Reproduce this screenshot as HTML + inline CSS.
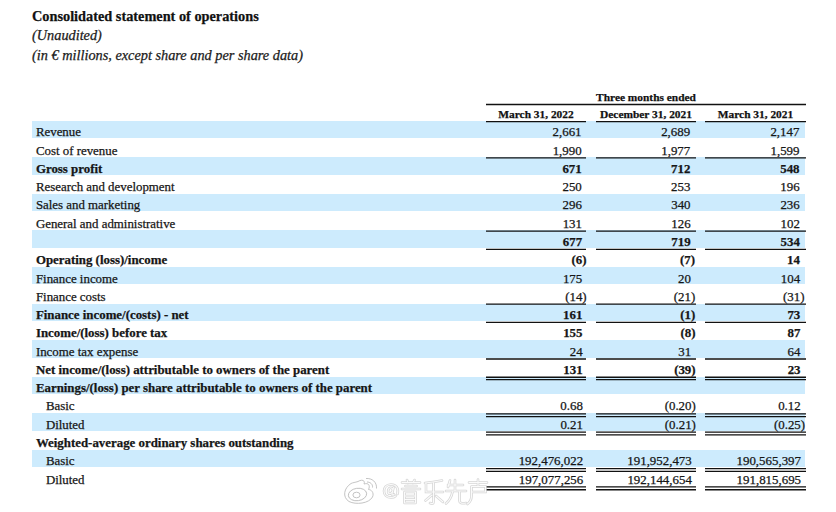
<!DOCTYPE html>
<html><head><meta charset="utf-8">
<style>
html,body{margin:0;padding:0;background:#fff;}
body{width:836px;height:512px;position:relative;overflow:hidden;font-family:"Liberation Serif",serif;color:#161616;-webkit-text-stroke:0.25px #161616;}
.a{position:absolute;white-space:nowrap;}
.band{position:absolute;background:#cdebfd;}
.rule{position:absolute;background:#141414;height:1px;z-index:2;}
.lab{position:absolute;white-space:nowrap;font-size:12.88px;line-height:1;}
.num{position:absolute;white-space:nowrap;font-size:12.9px;line-height:1;text-align:right;}
.b{font-weight:bold;}
.p{position:absolute;left:100%;top:0;}
</style></head><body>

<div class="a b" style="left:32px;top:8.62px;font-size:14.3px;line-height:1;color:#111;">Consolidated statement of operations</div>
<div class="a" style="left:32px;top:28.02px;font-size:14.3px;line-height:1;font-style:italic;color:#222;">(Unaudited)</div>
<div class="a" style="left:32px;top:47.92px;font-size:14.3px;line-height:1;font-style:italic;color:#222;">(in &#8364; millions, except share and per share data)</div>
<div class="a b" style="left:596px;width:100px;text-align:center;top:91.75px;font-size:11.4px;line-height:1;color:#111;">Three months ended</div>
<div class="a b" style="left:486px;width:100px;text-align:center;top:109.45px;font-size:11.4px;line-height:1;color:#111;">March 31, 2022</div>
<div class="a b" style="left:596px;width:100px;text-align:center;top:109.45px;font-size:11.4px;line-height:1;color:#111;">December 31, 2021</div>
<div class="a b" style="left:705px;width:101px;text-align:center;top:109.45px;font-size:11.4px;line-height:1;color:#111;">March 31, 2021</div>
<div class="band" style="left:32px;width:773px;top:120.50px;height:17.50px;"></div>
<div class="lab" style="left:35.9px;top:125.71px;">Revenue</div>
<div class="num" style="right:254.46px;top:125.70px;">2,661</div>
<div class="num" style="right:145.83px;top:125.70px;">2,689</div>
<div class="num" style="right:36.62px;top:125.70px;">2,147</div>
<div class="lab" style="left:35.9px;top:144.71px;">Cost of revenue</div>
<div class="num" style="right:254.37px;top:144.70px;">1,990</div>
<div class="num" style="right:145.74px;top:144.70px;">1,977</div>
<div class="num" style="right:36.53px;top:144.70px;">1,599</div>
<div class="band" style="left:32px;width:773px;top:157.10px;height:17.50px;"></div>
<div class="lab b" style="left:35.9px;top:162.71px;">Gross profit</div>
<div class="num b" style="right:254.28px;top:162.70px;">671</div>
<div class="num b" style="right:145.65px;top:162.70px;">712</div>
<div class="num b" style="right:36.44px;top:162.70px;">548</div>
<div class="lab" style="left:35.9px;top:180.71px;">Research and development</div>
<div class="num" style="right:254.20px;top:180.70px;">250</div>
<div class="num" style="right:145.57px;top:180.70px;">253</div>
<div class="num" style="right:36.36px;top:180.70px;">196</div>
<div class="band" style="left:32px;width:773px;top:193.70px;height:17.50px;"></div>
<div class="lab" style="left:35.9px;top:198.71px;">Sales and marketing</div>
<div class="num" style="right:254.11px;top:198.70px;">296</div>
<div class="num" style="right:145.48px;top:198.70px;">340</div>
<div class="num" style="right:36.27px;top:198.70px;">236</div>
<div class="lab" style="left:35.9px;top:217.71px;">General and administrative</div>
<div class="num" style="right:254.02px;top:217.70px;">131</div>
<div class="num" style="right:145.39px;top:217.70px;">126</div>
<div class="num" style="right:36.18px;top:217.70px;">102</div>
<div class="band" style="left:32px;width:773px;top:230.30px;height:17.50px;"></div>
<div class="num b" style="right:253.93px;top:235.70px;">677</div>
<div class="num b" style="right:145.30px;top:235.70px;">719</div>
<div class="num b" style="right:36.09px;top:235.70px;">534</div>
<div class="lab b" style="left:35.9px;top:253.71px;">Operating (loss)/income</div>
<div class="num b" style="right:253.84px;top:253.70px;">(6<span class="p">)</span></div>
<div class="num b" style="right:145.21px;top:253.70px;">(7<span class="p">)</span></div>
<div class="num b" style="right:36.00px;top:253.70px;">14</div>
<div class="band" style="left:32px;width:773px;top:266.90px;height:17.50px;"></div>
<div class="lab" style="left:35.9px;top:272.71px;">Finance income</div>
<div class="num" style="right:253.76px;top:272.70px;">175</div>
<div class="num" style="right:145.13px;top:272.70px;">20</div>
<div class="num" style="right:35.92px;top:272.70px;">104</div>
<div class="lab" style="left:35.9px;top:290.71px;">Finance costs</div>
<div class="num" style="right:253.67px;top:290.70px;">(14<span class="p">)</span></div>
<div class="num" style="right:145.04px;top:290.70px;">(21<span class="p">)</span></div>
<div class="num" style="right:35.83px;top:290.70px;">(31<span class="p">)</span></div>
<div class="band" style="left:32px;width:773px;top:303.50px;height:17.50px;"></div>
<div class="lab b" style="left:35.9px;top:308.71px;">Finance income/(costs) - net</div>
<div class="num b" style="right:253.58px;top:308.70px;">161</div>
<div class="num b" style="right:144.95px;top:308.70px;">(1<span class="p">)</span></div>
<div class="num b" style="right:35.74px;top:308.70px;">73</div>
<div class="lab b" style="left:35.9px;top:326.71px;">Income/(loss) before tax</div>
<div class="num b" style="right:253.49px;top:326.70px;">155</div>
<div class="num b" style="right:144.86px;top:326.70px;">(8<span class="p">)</span></div>
<div class="num b" style="right:35.65px;top:326.70px;">87</div>
<div class="band" style="left:32px;width:773px;top:340.10px;height:17.50px;"></div>
<div class="lab" style="left:35.9px;top:345.71px;">Income tax expense</div>
<div class="num" style="right:253.41px;top:345.70px;">24</div>
<div class="num" style="right:144.78px;top:345.70px;">31</div>
<div class="num" style="right:35.57px;top:345.70px;">64</div>
<div class="lab b" style="left:35.9px;top:363.71px;">Net income/(loss) attributable to owners of the parent</div>
<div class="num b" style="right:253.32px;top:363.70px;">131</div>
<div class="num b" style="right:144.69px;top:363.70px;">(39<span class="p">)</span></div>
<div class="num b" style="right:35.48px;top:363.70px;">23</div>
<div class="band" style="left:32px;width:773px;top:376.70px;height:17.50px;"></div>
<div class="lab b" style="left:35.9px;top:381.71px;">Earnings/(loss) per share attributable to owners of the parent</div>
<div class="lab" style="left:45.9px;top:399.71px;">Basic</div>
<div class="num" style="right:253.14px;top:399.70px;">0.68</div>
<div class="num" style="right:144.51px;top:399.70px;">(0.20<span class="p">)</span></div>
<div class="num" style="right:35.30px;top:399.70px;">0.12</div>
<div class="band" style="left:32px;width:773px;top:413.30px;height:17.50px;"></div>
<div class="lab" style="left:45.9px;top:418.71px;">Diluted</div>
<div class="num" style="right:253.05px;top:418.70px;">0.21</div>
<div class="num" style="right:144.42px;top:418.70px;">(0.21<span class="p">)</span></div>
<div class="num" style="right:35.21px;top:418.70px;">(0.25<span class="p">)</span></div>
<div class="lab b" style="left:35.9px;top:436.71px;">Weighted-average ordinary shares outstanding</div>
<div class="band" style="left:32px;width:773px;top:449.90px;height:17.50px;"></div>
<div class="lab" style="left:45.9px;top:454.71px;">Basic</div>
<div class="num" style="right:252.88px;top:454.70px;">192,476,022</div>
<div class="num" style="right:144.25px;top:454.70px;">191,952,473</div>
<div class="num" style="right:35.04px;top:454.70px;">190,565,397</div>
<div class="lab" style="left:45.9px;top:473.71px;">Diluted</div>
<div class="num" style="right:252.79px;top:473.70px;">197,077,256</div>
<div class="num" style="right:144.16px;top:473.70px;">192,144,654</div>
<div class="num" style="right:34.95px;top:473.70px;">191,815,695</div>
<svg class="a" style="left:0;top:0;z-index:3" width="836" height="512" viewBox="0 0 836 512"><g stroke="#111" fill="none">
<line x1="486" y1="104.50" x2="806" y2="104.50" stroke-width="1.3"/>
<line x1="486" y1="121.70" x2="586" y2="121.70" stroke-width="1.3"/>
<line x1="596" y1="121.70" x2="696" y2="121.70" stroke-width="1.3"/>
<line x1="705" y1="121.70" x2="806" y2="121.70" stroke-width="1.3"/>
<line x1="486" y1="157.91" x2="586" y2="157.91" stroke-width="1.3"/>
<line x1="596" y1="157.91" x2="696" y2="157.91" stroke-width="1.3"/>
<line x1="705" y1="157.91" x2="806" y2="157.91" stroke-width="1.3"/>
<line x1="486" y1="231.03" x2="586" y2="231.03" stroke-width="1.3"/>
<line x1="596" y1="231.03" x2="696" y2="231.03" stroke-width="1.3"/>
<line x1="705" y1="231.03" x2="806" y2="231.03" stroke-width="1.3"/>
<line x1="486" y1="249.31" x2="586" y2="249.31" stroke-width="1.3"/>
<line x1="596" y1="249.31" x2="696" y2="249.31" stroke-width="1.3"/>
<line x1="705" y1="249.31" x2="806" y2="249.31" stroke-width="1.3"/>
<line x1="486" y1="304.15" x2="586" y2="304.15" stroke-width="1.3"/>
<line x1="596" y1="304.15" x2="696" y2="304.15" stroke-width="1.3"/>
<line x1="705" y1="304.15" x2="806" y2="304.15" stroke-width="1.3"/>
<line x1="486" y1="322.43" x2="586" y2="322.43" stroke-width="1.3"/>
<line x1="596" y1="322.43" x2="696" y2="322.43" stroke-width="1.3"/>
<line x1="705" y1="322.43" x2="806" y2="322.43" stroke-width="1.3"/>
<line x1="486" y1="358.99" x2="586" y2="358.99" stroke-width="1.3"/>
<line x1="596" y1="358.99" x2="696" y2="358.99" stroke-width="1.3"/>
<line x1="705" y1="358.99" x2="806" y2="358.99" stroke-width="1.3"/>
<line x1="486" y1="377.27" x2="586" y2="377.27" stroke-width="1.3"/>
<line x1="486" y1="379.67" x2="586" y2="379.67" stroke-width="1.3"/>
<line x1="596" y1="377.27" x2="696" y2="377.27" stroke-width="1.3"/>
<line x1="596" y1="379.67" x2="696" y2="379.67" stroke-width="1.3"/>
<line x1="705" y1="377.27" x2="806" y2="377.27" stroke-width="1.3"/>
<line x1="705" y1="379.67" x2="806" y2="379.67" stroke-width="1.3"/>
<line x1="486" y1="413.83" x2="586" y2="413.83" stroke-width="1.3"/>
<line x1="486" y1="416.63" x2="586" y2="416.63" stroke-width="1.3"/>
<line x1="596" y1="413.83" x2="696" y2="413.83" stroke-width="1.3"/>
<line x1="596" y1="416.63" x2="696" y2="416.63" stroke-width="1.3"/>
<line x1="705" y1="413.83" x2="806" y2="413.83" stroke-width="1.3"/>
<line x1="705" y1="416.63" x2="806" y2="416.63" stroke-width="1.3"/>
<line x1="486" y1="432.11" x2="586" y2="432.11" stroke-width="1.3"/>
<line x1="486" y1="434.91" x2="586" y2="434.91" stroke-width="1.3"/>
<line x1="596" y1="432.11" x2="696" y2="432.11" stroke-width="1.3"/>
<line x1="596" y1="434.91" x2="696" y2="434.91" stroke-width="1.3"/>
<line x1="705" y1="432.11" x2="806" y2="432.11" stroke-width="1.3"/>
<line x1="705" y1="434.91" x2="806" y2="434.91" stroke-width="1.3"/>
<line x1="486" y1="468.67" x2="586" y2="468.67" stroke-width="1.3"/>
<line x1="486" y1="471.47" x2="586" y2="471.47" stroke-width="1.3"/>
<line x1="596" y1="468.67" x2="696" y2="468.67" stroke-width="1.3"/>
<line x1="596" y1="471.47" x2="696" y2="471.47" stroke-width="1.3"/>
<line x1="705" y1="468.67" x2="806" y2="468.67" stroke-width="1.3"/>
<line x1="705" y1="471.47" x2="806" y2="471.47" stroke-width="1.3"/>
<line x1="486" y1="486.95" x2="586" y2="486.95" stroke-width="1.3"/>
<line x1="486" y1="489.75" x2="586" y2="489.75" stroke-width="1.3"/>
<line x1="596" y1="486.95" x2="696" y2="486.95" stroke-width="1.3"/>
<line x1="596" y1="489.75" x2="696" y2="489.75" stroke-width="1.3"/>
<line x1="705" y1="486.95" x2="806" y2="486.95" stroke-width="1.3"/>
<line x1="705" y1="489.75" x2="806" y2="489.75" stroke-width="1.3"/>
</g></svg>
<svg class="a" style="left:0;top:0;z-index:5" width="836" height="512" viewBox="0 0 836 512">
<g fill="none" stroke="#a8a8a8" stroke-width="0.9" opacity="0.75">
<path d="M351 483.5 C344 488,342 497,349 501.5 C356 505,369 503.5,372.5 497 C374.5 492.5,371 489.5,368.5 489.5 C370.5 485.5,368.5 482.5,364 484 C365.5 480.5,362 479,358 481.5 C355 482.5,353 482.5,351 483.5 Z"/>
<ellipse cx="357.5" cy="494.5" rx="9.2" ry="6.2" transform="rotate(-8 357.5 494.5)"/>
<ellipse cx="356.5" cy="495" rx="3.6" ry="2.8"/>
<path d="M366 478.5 C372 478,377 482,376.5 488.5"/>
<path d="M367 482 C370 482,373 484,372.5 487.5"/>
</g>
<g fill="none" stroke="#cfcfcf" stroke-width="2.6" stroke-linecap="round" opacity="0.85"><path d="M397.5 494 C399 488,396 484.5,391 484.5 C386 484.5,384 488,384 491 C384 495,387 497.5,391 497.5 C393 497.5,394.5 497,395.5 496"/><path d="M393.5 487.5 L392 494 C391.8 495,393 495.5,394 494.5 M393 490 C392 487,389 487,388.2 490.5 C387.6 493.5,389.5 495,391.8 492.5"/>
<path d="M402 482.5 H420 M407 480 L408 483 M414.5 480 L413 483 M405.5 486 H416.5 M402 489 H420 M404.5 492 V503 M415.5 492 V503 M404.5 492 H415.5 M404.5 496 H415.5 M404.5 499.5 H415.5 M404.5 503 H415.5"/>
<path d="M425 483 C431 482.5,437 481.5,442 480.5 M426 483 V492 H443 M433.5 483 V502 C433.5 504,432 504,430 503 M432 495 L425.5 500.5 M436 496 L443 502"/>
<path d="M448 485 H463 M450 480.5 L448 487 M455 480 V491 M446 491 H466 M452.5 492 C451.5 497,449 501,446 503.5 M459.5 492 V501 C459.5 503,461.5 503.5,466 503"/>
<path d="M469 482.5 H487 M478 479.5 V485.5 M471.5 486.5 H485.5 V492 H471.5 M471.5 486.5 V496 C471.5 499.5,470 502,467.5 504"/></g>
<g fill="none" stroke="#fbfbfb" stroke-width="1.1" stroke-linecap="round"><path d="M397.5 494 C399 488,396 484.5,391 484.5 C386 484.5,384 488,384 491 C384 495,387 497.5,391 497.5 C393 497.5,394.5 497,395.5 496"/><path d="M393.5 487.5 L392 494 C391.8 495,393 495.5,394 494.5 M393 490 C392 487,389 487,388.2 490.5 C387.6 493.5,389.5 495,391.8 492.5"/>
<path d="M402 482.5 H420 M407 480 L408 483 M414.5 480 L413 483 M405.5 486 H416.5 M402 489 H420 M404.5 492 V503 M415.5 492 V503 M404.5 492 H415.5 M404.5 496 H415.5 M404.5 499.5 H415.5 M404.5 503 H415.5"/>
<path d="M425 483 C431 482.5,437 481.5,442 480.5 M426 483 V492 H443 M433.5 483 V502 C433.5 504,432 504,430 503 M432 495 L425.5 500.5 M436 496 L443 502"/>
<path d="M448 485 H463 M450 480.5 L448 487 M455 480 V491 M446 491 H466 M452.5 492 C451.5 497,449 501,446 503.5 M459.5 492 V501 C459.5 503,461.5 503.5,466 503"/>
<path d="M469 482.5 H487 M478 479.5 V485.5 M471.5 486.5 H485.5 V492 H471.5 M471.5 486.5 V496 C471.5 499.5,470 502,467.5 504"/></g>
</svg>
</body></html>
